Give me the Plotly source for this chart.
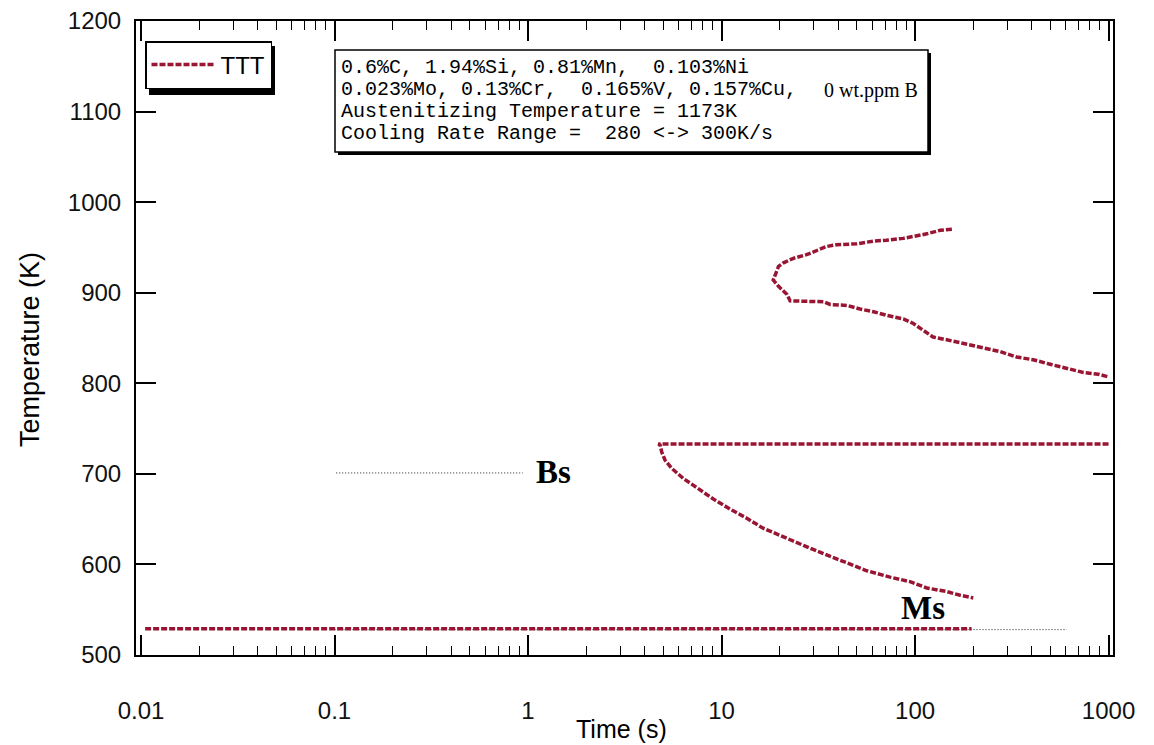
import plotly.graph_objects as go

# ---- TTT diagram data (time in s, temperature in K) ----
# upper C-curve (diffusional transformation start)
ferrite_time = [155, 135, 115, 98, 87, 71, 61, 50, 39.4, 34.9, 32.3, 27.5, 23.5, 20.9,
                19.7, 18.9, 18.5, 19.7, 21.8, 22.6, 33.6, 36.4, 44.4, 52, 61, 71.4, 87,
                98, 110, 124, 146, 177, 217, 275, 335, 408, 499, 608, 741, 886, 1000]
ferrite_temp = [970, 969, 965, 962, 960, 958, 957, 954, 953, 951, 948, 942, 938, 933,
                929, 919, 914, 907, 898, 891, 890, 887, 886, 882, 879, 875, 871,
                866, 859, 851, 848, 844, 839, 835, 829, 826, 821, 816, 812, 810, 807]

# lower C-curve (displacive transformation start, flat top)
bainite_time = [1000, 4.71, 4.81, 4.91, 5.11, 5.53, 6.34, 7.58, 9.25, 11.3, 13.5, 16.4,
                20.9, 26.5, 33.6, 42.6, 56.3, 74.3, 94.2, 115, 146, 171, 200]
bainite_temp = [733, 733, 732, 724, 715, 706, 695, 684, 671, 660, 651, 640,
                630, 621, 612, 603, 593, 586, 581, 574, 570, 566, 563]

# martensite start line
ms_time = [0.0105, 196]
ms_temp = [529, 529]

# reference lines for the Bs / Ms labels
bs_ref_time = [0.102, 0.94]
bs_ref_temp = [701, 701]
ms_ref_time = [0.1, 608]
ms_ref_temp = [528, 528]

x_ticks = [0.01, 0.1, 1, 10, 100, 1000]
x_tick_labels = ["0.01", "0.1", "1", "10", "100", "1000"]
y_ticks = [500, 600, 700, 800, 900, 1000, 1100, 1200]

composition_lines = [
    "0.6%C, 1.94%Si, 0.81%Mn,  0.103%Ni",
    "0.023%Mo, 0.13%Cr,  0.165%V, 0.157%Cu,",
    "Austenitizing Temperature = 1173K",
    "Cooling Rate Range =  280 <-> 300K/s",
]
boron_text = "0 wt.ppm B"

# ---- layout geometry (pixels) ----
W, H = 1154, 745
ML, MR, MT, MB = 136, 41, 21, 90
PW, PH = W - ML - MR, H - MT - MB


def px(xpix):
    return (xpix - ML) / PW


def py(ypix):
    return 1 - (ypix - MT) / PH


TTT_COLOR = "#981533"
TTT_LINE = dict(color=TTT_COLOR, width=3.5, dash="6px,2px")
REF_STYLE = dict(color="#222222", width=1, dash="1px,2px")

fig = go.Figure()

fig.add_trace(go.Scatter(x=ms_ref_time, y=ms_ref_temp, mode="lines", line=REF_STYLE,
                         showlegend=False, hoverinfo="skip"))
fig.add_trace(go.Scatter(x=bs_ref_time, y=bs_ref_temp, mode="lines", line=REF_STYLE,
                         showlegend=False, hoverinfo="skip"))

fig.add_trace(go.Scatter(x=ferrite_time, y=ferrite_temp, mode="lines", name="TTT",
                         legendgroup="TTT", showlegend=True, line=TTT_LINE))
fig.add_trace(go.Scatter(x=bainite_time, y=bainite_temp, mode="lines", name="TTT",
                         legendgroup="TTT", showlegend=False, line=TTT_LINE))
fig.add_trace(go.Scatter(x=ms_time, y=ms_temp, mode="lines", name="TTT",
                         legendgroup="TTT", showlegend=False, line=TTT_LINE))

axis_common = dict(
    ticks="inside", ticklen=20, tickwidth=1.5, tickcolor="black",
    showline=True, linecolor="black", linewidth=2, mirror="allticks",
    showgrid=False, zeroline=False, automargin=False,
    tickfont=dict(size=24, color="#111111"),
)

fig.update_xaxes(
    type="log", range=[-2.026, 3.023],
    tickmode="array", tickvals=x_ticks, ticktext=x_tick_labels,
    minor=dict(ticks="inside", ticklen=9, tickwidth=1.2, tickcolor="black",
               tickmode="array",
               tickvals=[m * 10 ** e for e in range(-2, 3) for m in range(2, 10)],
               showgrid=False),
    ticklabelstandoff=33,
    **axis_common,
)
fig.update_yaxes(
    range=[500, 1200], tickmode="array", tickvals=y_ticks,
    ticklabelstandoff=8,
    **axis_common,
)

shapes = []
# composition box with drop shadow
shapes.append(dict(type="rect", xref="paper", yref="paper",
                   x0=px(338), x1=px(931), y0=py(155), y1=py(53),
                   line=dict(width=0), fillcolor="black", layer="above"))
shapes.append(dict(type="rect", xref="paper", yref="paper",
                   x0=px(335), x1=px(928), y0=py(152), y1=py(50),
                   line=dict(color="black", width=1.5), fillcolor="white", layer="above"))
# legend drop shadow
shapes.append(dict(type="rect", xref="paper", yref="paper",
                   x0=px(149), x1=px(275), y0=py(95), y1=py(46),
                   line=dict(width=0), fillcolor="black", layer="above"))

annotations = []
line_y = [67, 89, 111, 133]
for txt, yy in zip(composition_lines, line_y):
    annotations.append(dict(xref="paper", yref="paper", x=px(339), y=py(yy),
                            xanchor="left", yanchor="middle", showarrow=False,
                            text=txt.replace(" ", "&nbsp;"),
                            font=dict(family="Liberation Mono, Courier New, monospace",
                                      size=20, color="black")))
annotations.append(dict(xref="paper", yref="paper", x=px(822), y=py(90),
                        xanchor="left", yanchor="middle", showarrow=False,
                        text=boron_text,
                        font=dict(family="Liberation Serif, Times New Roman, serif",
                                  size=20, color="black")))
annotations.append(dict(xref="paper", yref="paper", x=px(534), y=py(472),
                        xanchor="left", yanchor="middle", showarrow=False,
                        text="<b>Bs</b>",
                        font=dict(family="Liberation Serif, Times New Roman, serif",
                                  size=33, color="black")))
annotations.append(dict(xref="paper", yref="paper", x=px(899), y=py(608),
                        xanchor="left", yanchor="middle", showarrow=False,
                        text="<b>Ms</b>",
                        font=dict(family="Liberation Serif, Times New Roman, serif",
                                  size=33, color="black")))
# axis titles
annotations.append(dict(xref="paper", yref="paper", x=px(30), y=py(350),
                        xanchor="center", yanchor="middle", showarrow=False,
                        textangle=-90, text="Temperature (K)",
                        font=dict(size=27, color="black")))
annotations.append(dict(xref="paper", yref="paper", x=px(621), y=py(729),
                        xanchor="center", yanchor="middle", showarrow=False,
                        text="Time (s)",
                        font=dict(size=25, color="black")))

fig.update_layout(
    width=W, height=H,
    margin=dict(l=ML, r=MR, t=MT, b=MB),
    paper_bgcolor="white", plot_bgcolor="white",
    font=dict(family="Liberation Sans, Arial, sans-serif", color="black"),
    showlegend=True,
    legend=dict(x=px(145), y=py(41), xanchor="left", yanchor="top",
                bgcolor="white", bordercolor="black", borderwidth=1.5,
                font=dict(size=24, color="black"), itemwidth=64),
    shapes=shapes,
    annotations=annotations,
)

fig.write_html("out.html")
